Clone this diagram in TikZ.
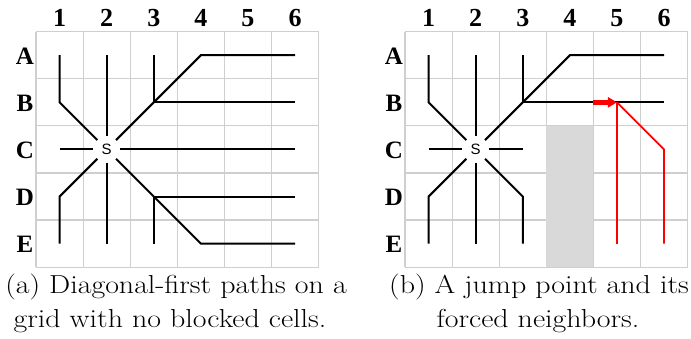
\documentclass[tikz,border=0pt]{standalone}
\usepackage{graphicx}
\usepackage{fontspec}
\newfontfamily\lblfont{Liberation Serif}
\newfontfamily\sfont{Liberation Sans}
\usetikzlibrary{arrows.meta}
\newcommand{\capline}[1]{\scalebox{1.15}[1]{#1}}
\begin{document}
\begin{tikzpicture}[x=1pt,y=-1pt,
  gridline/.style={draw=black!19, line width=1.2pt},
  blocked/.style={fill=black!15, draw=none},
  pathline/.style={draw=black, line width=2pt},
  redline/.style={draw=red, line width=1.8pt},
  redarrow/.style={draw=red, line width=5pt, -{Triangle[length=9pt,width=10pt]}},
  collbl/.style={font=\lblfont\bfseries\fontsize{26}{26}\selectfont},
  rowlbl/.style={font=\lblfont\bfseries\fontsize{25}{25}\selectfont},
  startnode/.style={circle, minimum size=26pt, inner sep=0pt, font=\sfont\fontsize{15}{15}\selectfont},
  captext/.style={font=\fontsize{26}{26}\selectfont, anchor=base, inner sep=0pt}]
\useasboundingbox (0,0) rectangle (691,339);
\foreach \p/\ox in {a/36, b/405}{
  \foreach \i in {0,...,6}
    \draw[gridline] ({\ox+47.1*\i},31.7) -- ({\ox+47.1*\i},267.2);
  \foreach \j in {0,...,5}
    \draw[gridline] (\ox,{31.7+47.1*\j}) -- ({\ox+282.6},{31.7+47.1*\j});
  \foreach \r [count=\j] in {A,B,C,D,E}{
    \foreach \c in {1,...,6}
      \coordinate (\p-\r\c) at ({\ox+47.1*(\c-0.5)},{31.7+47.1*(\j-0.5)});
    \node[rowlbl] (\p-row\r) at ({\ox-11},{31.7+47.1*(\j-0.5)+1}) {\r};
  }
  \foreach \c in {1,...,6}
    \node[collbl] (\p-col\c) at ({\ox+47.1*(\c-0.5)},18) {\c};
}
% blocked cells in panel b
\fill[blocked] (546.3,125.9) rectangle (593.4,267.2);

% start nodes
\node[startnode] (a-S) at (a-C2) {S};
\node[startnode] (b-S) at (b-C2) {S};

% panel a
\draw[pathline] (a-A1) -- (a-B1) -- (a-S);
\draw[pathline] (a-A2) -- (a-S);
\draw[pathline] (a-S) -- (a-E2);
\draw[pathline] (a-C1) -- (a-S);
\draw[pathline] (a-S) -- (a-C6);
\draw[pathline] (a-S) -- (a-B3) -- (a-A4) -- (a-A6);
\draw[pathline] (a-A3) -- (a-B3) -- (a-B6);
\draw[pathline] (a-E1) -- (a-D1) -- (a-S);
\draw[pathline] (a-S) -- (a-D3) -- (a-E4) -- (a-E6);
\draw[pathline] (a-E3) -- (a-D3) -- (a-D6);

% panel b
\draw[pathline] (b-A1) -- (b-B1) -- (b-S);
\draw[pathline] (b-A2) -- (b-S);
\draw[pathline] (b-S) -- (b-E2);
\draw[pathline] (b-C1) -- (b-S);
\draw[pathline] (b-S) -- (b-C3);
\draw[pathline] (b-S) -- (b-B3) -- (b-A4) -- (b-A6);
\draw[pathline] (b-A3) -- (b-B3) -- (b-B6);
\draw[pathline] (b-E1) -- (b-D1) -- (b-S);
\draw[pathline] (b-S) -- (b-D3) -- (b-E3);
\draw[redline] (b-B5) -- (b-E5);
\draw[redline] (b-B5) -- (b-C6) -- (b-E6);
\coordinate (b-arrowstart) at (593.4,102.35);
\draw[redarrow] (b-arrowstart) -- (b-B5);

% captions
\node[captext] (capa1) at (176,294) {\capline{(a) Diagonal-first paths on a}};
\node[captext] (capa2) at (170,327) {\capline{grid with no blocked cells.}};
\node[captext] (capb1) at (539,294) {\capline{(b) A jump point and its}};
\node[captext] (capb2) at (538,327) {\capline{forced neighbors.}};
\end{tikzpicture}
\end{document}
